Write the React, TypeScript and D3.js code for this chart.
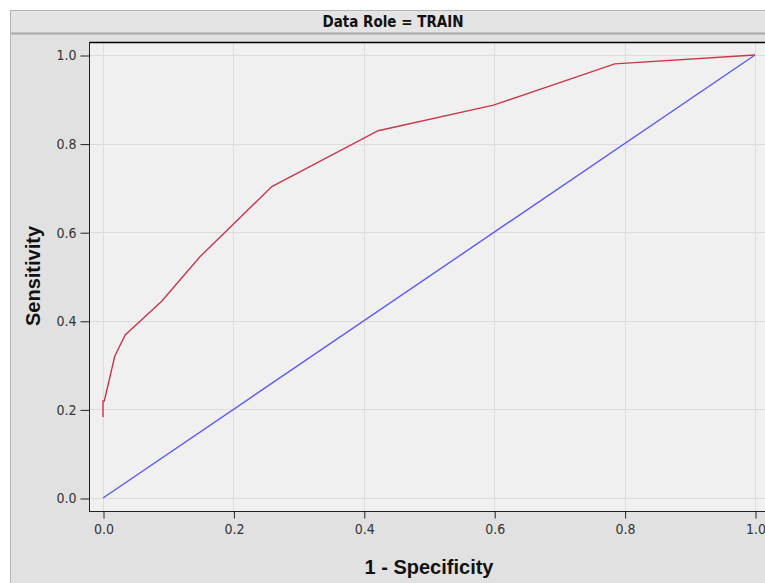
import React, { useEffect, useRef } from 'react';
import * as d3 from 'd3';

// ROC points (1 - specificity, sensitivity)
const fpr = [0, 0, 0.002, 0.018, 0.034, 0.09, 0.149, 0.259, 0.422, 0.599, 0.785, 1];
const tpr = [0.183, 0.219, 0.219, 0.32, 0.368, 0.444, 0.545, 0.703, 0.829, 0.887, 0.98, 1];
const diagX = [0, 1];
const diagY = [0, 1];
const ticks = [0, 0.2, 0.4, 0.6, 0.8, 1.0];

const W = 765;
const H = 583;

const App = () => {
  const ref = useRef<SVGSVGElement>(null);

  useEffect(() => {
    const svg = d3.select(ref.current);
    svg.selectAll('*').remove();

    // outer panel
    svg.append('rect').attr('x', 0).attr('y', 0).attr('width', W).attr('height', H).attr('fill', '#ffffff');
    svg.append('rect')
      .attr('x', 10.5).attr('y', 10.5).attr('width', W).attr('height', H)
      .attr('fill', '#e1e1e1').attr('stroke', '#b4b4b4');

    // header band
    svg.append('rect')
      .attr('x', 11).attr('y', 11).attr('width', W).attr('height', 22)
      .attr('fill', '#e4e4e4');
    svg.append('line')
      .attr('x1', 11).attr('x2', W).attr('y1', 33.5).attr('y2', 33.5)
      .attr('stroke', '#a8a8a8').attr('stroke-width', 2);
    svg.append('text')
      .attr('x', 393).attr('y', 27)
      .attr('text-anchor', 'middle')
      .attr('font-family', 'DejaVu Sans Condensed, sans-serif')
      .attr('font-weight', 'bold').attr('font-size', 15).attr('fill', '#111')
      .text('Data Role = TRAIN');

    // plot frame
    const left = 89, top = 42, bottom = 511, right = 772;
    const x = d3.scaleLinear().domain([0, 1]).range([103, 755]);
    const y = d3.scaleLinear().domain([0, 1]).range([498, 55]);

    svg.append('rect')
      .attr('x', left).attr('y', top).attr('width', right - left).attr('height', bottom - top)
      .attr('fill', '#f0f0f0');

    const grid = svg.append('g');
    ticks.forEach(t => {
      grid.append('line')
        .attr('x1', Math.round(x(t)) + 0.5).attr('x2', Math.round(x(t)) + 0.5)
        .attr('y1', top).attr('y2', bottom)
        .attr('stroke', '#dcdcdc');
      grid.append('line')
        .attr('x1', left).attr('x2', right)
        .attr('y1', Math.round(y(t)) + 0.5).attr('y2', Math.round(y(t)) + 0.5)
        .attr('stroke', '#dcdcdc');
    });

    // curves
    const line = d3.line<[number, number]>().x(d => x(d[0])).y(d => y(d[1]));
    svg.append('path')
      .datum(diagX.map((v, i) => [v, diagY[i]] as [number, number]))
      .attr('fill', 'none').attr('stroke', '#5a5af2').attr('stroke-width', 1.4)
      .attr('d', line);
    svg.append('path')
      .datum(fpr.map((v, i) => [v, tpr[i]] as [number, number]))
      .attr('fill', 'none').attr('stroke', '#c8384c').attr('stroke-width', 1.4)
      .attr('d', line);

    // frame lines
    svg.append('line').attr('x1', left).attr('x2', right).attr('y1', top + 0.5).attr('y2', top + 0.5)
      .attr('stroke', '#000').attr('stroke-width', 1.5);
    svg.append('line').attr('x1', left + 0.5).attr('x2', left + 0.5).attr('y1', top).attr('y2', bottom)
      .attr('stroke', '#222');
    svg.append('line').attr('x1', left).attr('x2', right).attr('y1', bottom + 0.5).attr('y2', bottom + 0.5)
      .attr('stroke', '#222');

    const tickFont = 'DejaVu Sans Condensed, sans-serif';

    // x axis
    const xa = svg.append('g')
      .attr('transform', `translate(0.5,${bottom + 0.5})`)
      .call(d3.axisBottom(x).tickValues(ticks).tickFormat(d3.format('.1f')).tickSize(7).tickSizeOuter(0).tickPadding(6));
    xa.select('.domain').remove();
    xa.selectAll('line').attr('stroke', '#222');
    xa.selectAll('text').attr('font-family', tickFont).attr('font-size', 14).attr('fill', '#333');

    // y axis
    const ya = svg.append('g')
      .attr('transform', `translate(${left + 0.5},0.5)`)
      .call(d3.axisLeft(y).tickValues(ticks).tickFormat(d3.format('.1f')).tickSize(9).tickSizeOuter(0).tickPadding(4));
    ya.select('.domain').remove();
    ya.selectAll('line').attr('stroke', '#222');
    ya.selectAll('text').attr('font-family', tickFont).attr('font-size', 14).attr('fill', '#333');

    // axis titles
    svg.append('text')
      .attr('x', 429).attr('y', 574)
      .attr('text-anchor', 'middle')
      .attr('font-family', 'Liberation Sans, Arial, sans-serif')
      .attr('font-weight', 'bold').attr('font-size', 20).attr('fill', '#111')
      .text('1 - Specificity');
    svg.append('text')
      .attr('transform', 'translate(40,276) rotate(-90)')
      .attr('text-anchor', 'middle')
      .attr('font-family', 'Liberation Sans, Arial, sans-serif')
      .attr('font-weight', 'bold').attr('font-size', 20).attr('fill', '#111')
      .text('Sensitivity');
  }, []);

  return (
    <svg ref={ref} width={W} height={H} style={{ position: 'absolute', left: 0, top: 0 }}></svg>
  );
};

export default App;
